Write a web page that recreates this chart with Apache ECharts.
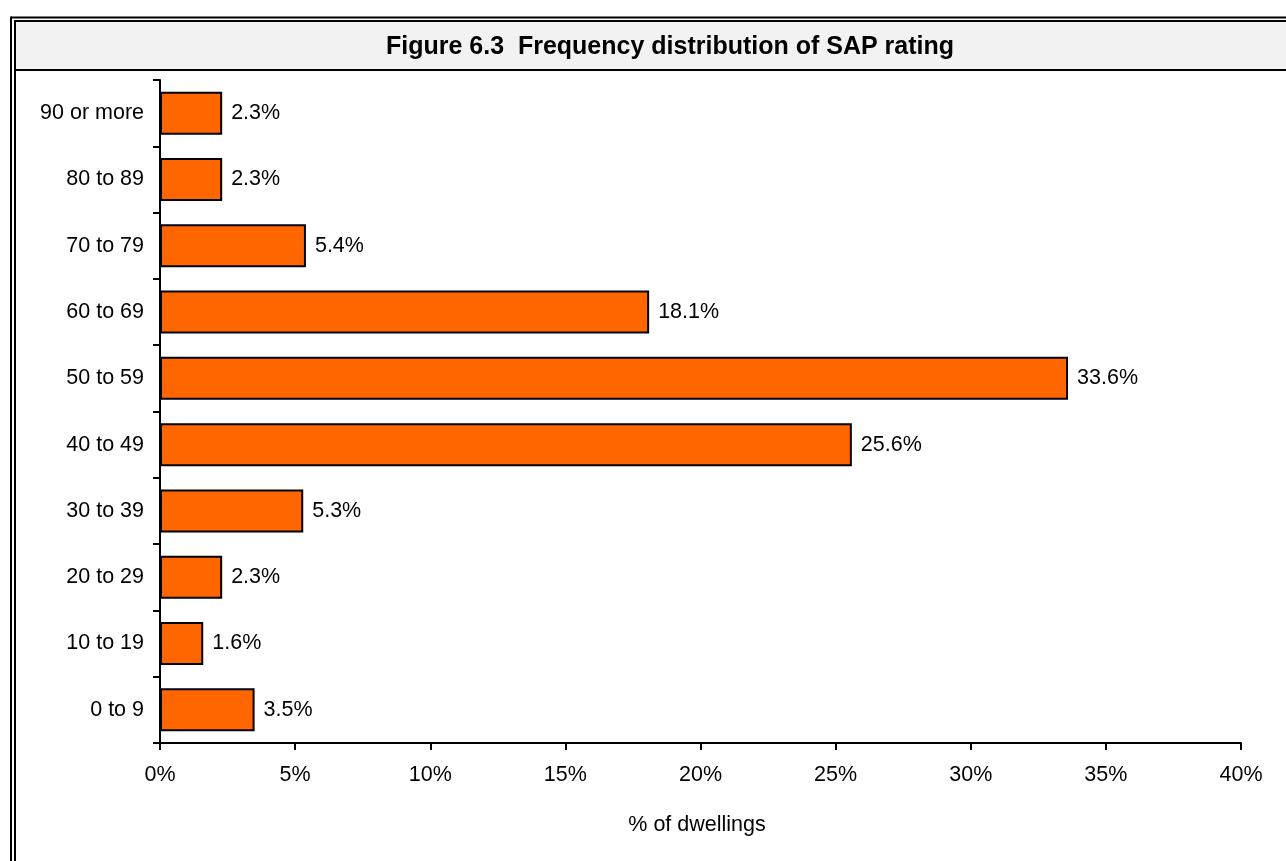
<!DOCTYPE html>
<html>
<head>
<meta charset="utf-8">
<script src="https://cdn.jsdelivr.net/npm/echarts@6/dist/echarts.min.js"></script>
<style>
  html, body { margin: 0; padding: 0; background: #ffffff; }
  #chart { width: 1286px; height: 861px; }
</style>
</head>
<body>
<div id="chart"></div>
<script>
// SAP rating bands, listed bottom to top
const categories = ['0 to 9', '10 to 19', '20 to 29', '30 to 39', '40 to 49',
                    '50 to 59', '60 to 69', '70 to 79', '80 to 89', '90 or more'];
// Share of dwellings in each band (%)
const shares = [3.5, 1.6, 2.3, 5.3, 25.6, 33.6, 18.1, 5.4, 2.3, 2.3];

const titleText = 'Figure 6.3  Frequency distribution of SAP rating';
const axisTitle = '% of dwellings';

const FONT = '"Liberation Sans", Arial, Helvetica, sans-serif';
const LABEL_SIZE = 21.5;

const chart = echarts.init(document.getElementById('chart'), null, { renderer: 'canvas' });

chart.setOption({
  animation: false,
  backgroundColor: '#ffffff',
  textStyle: { fontFamily: FONT },
  grid: { left: 160, right: 45, top: 80, bottom: 118, containLabel: false },
  graphic: [
    // header band
    { type: 'rect', z: 0, shape: { x: 15, y: 21, width: 1280, height: 49 },
      style: { fill: '#f2f2f2' } },
    // double frame: outer lines
    { type: 'line', z: 1, shape: { x1: 11, y1: 17.5, x2: 1290, y2: 17.5 },
      style: { stroke: '#000', lineWidth: 2 } },
    { type: 'line', z: 1, shape: { x1: 11, y1: 16.5, x2: 11, y2: 870 },
      style: { stroke: '#000', lineWidth: 2 } },
    // double frame: inner lines
    { type: 'line', z: 1, shape: { x1: 14, y1: 21, x2: 1290, y2: 21 },
      style: { stroke: '#000', lineWidth: 2 } },
    { type: 'line', z: 1, shape: { x1: 15, y1: 20, x2: 15, y2: 870 },
      style: { stroke: '#000', lineWidth: 2 } },
    // header bottom rule
    { type: 'line', z: 1, shape: { x1: 14, y1: 70, x2: 1290, y2: 70 },
      style: { stroke: '#000', lineWidth: 2 } },
    // header title
    { type: 'text', z: 2, x: 670, y: 47,
      style: { text: titleText, fill: '#000', font: 'bold 25px ' + FONT,
               textAlign: 'center', textVerticalAlign: 'middle' } },
    // x-axis title
    { type: 'text', z: 2, x: 697, y: 825,
      style: { text: axisTitle, fill: '#000', font: LABEL_SIZE + 'px ' + FONT,
               textAlign: 'center', textVerticalAlign: 'middle' } }
  ],
  xAxis: {
    type: 'value',
    min: 0, max: 40, interval: 5,
    splitLine: { show: false },
    axisLine: { show: true, lineStyle: { color: '#000', width: 2 } },
    axisTick: { show: true, inside: false, length: 7, lineStyle: { color: '#000', width: 2 } },
    axisLabel: { color: '#000', fontSize: LABEL_SIZE, fontFamily: FONT, margin: 21,
                 formatter: v => v + '%' }
  },
  yAxis: {
    type: 'category',
    data: categories,
    axisLine: { show: true, lineStyle: { color: '#000', width: 2 } },
    axisTick: { show: true, inside: false, length: 7, alignWithLabel: false,
                lineStyle: { color: '#000', width: 2 } },
    axisLabel: { color: '#000', fontSize: LABEL_SIZE, fontFamily: FONT, margin: 16 }
  },
  series: [{
    type: 'bar',
    data: shares,
    barWidth: 43,
    itemStyle: { color: '#ff6600', borderColor: '#000', borderWidth: 2 },
    label: { show: true, position: 'right', distance: 9, color: '#000',
             fontSize: LABEL_SIZE, fontFamily: FONT, formatter: p => p.value.toFixed(1) + '%' }
  }]
});
</script>
</body>
</html>
